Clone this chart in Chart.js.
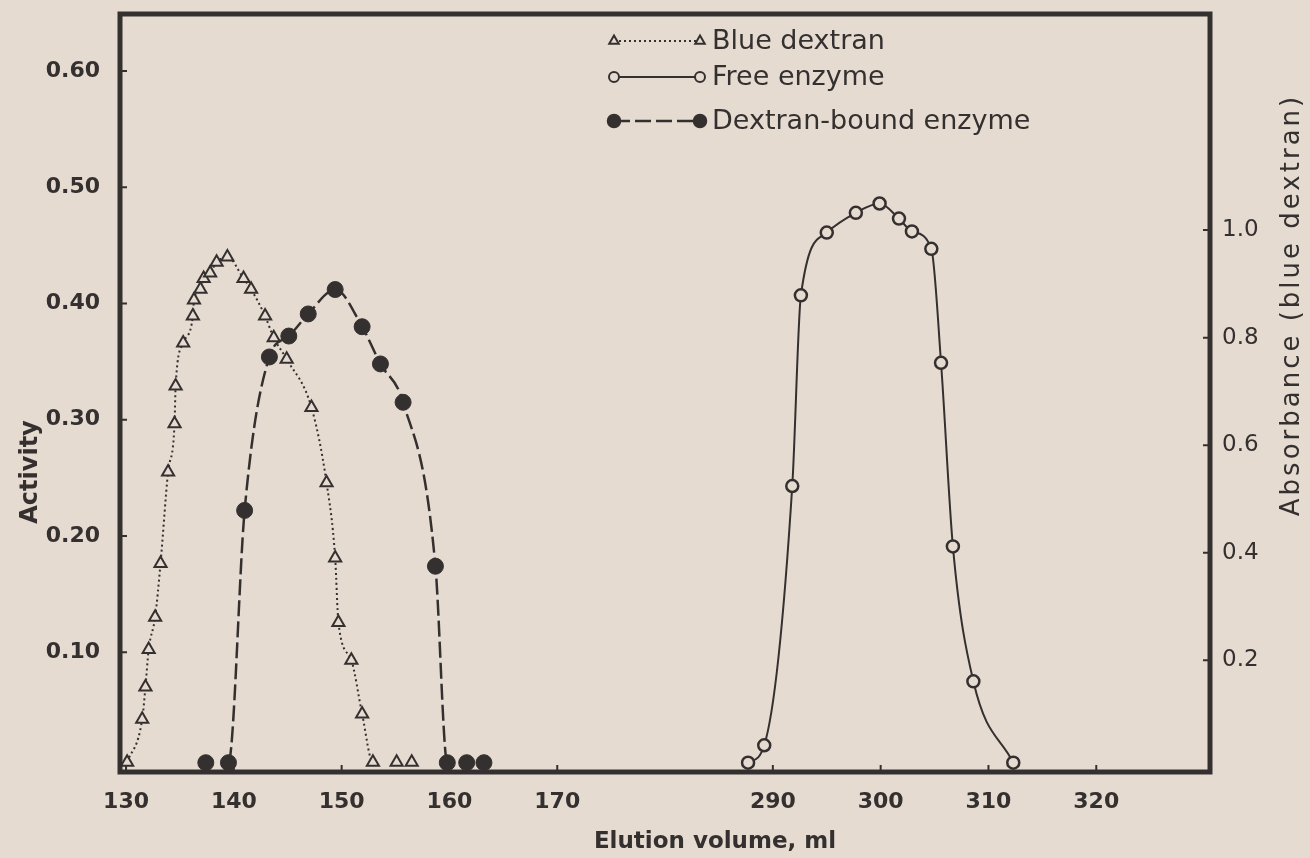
<!DOCTYPE html>
<html>
<head>
<meta charset="utf-8">
<script src="https://cdn.jsdelivr.net/npm/chart.js@4.4.1/dist/chart.umd.min.js"></script>
<style>
  html, body { margin: 0; padding: 0; background: #e5dbd1; }
  #wrap { width: 1310px; height: 858px; }
</style>
</head>
<body>
<div id="wrap"><canvas id="elutionChart" width="1310" height="858"></canvas></div>
<script>
// values (elution volume in ml)
const dextranVol = [130.1, 131.5, 131.8, 132.1, 132.7, 133.2, 133.9, 134.5, 134.6, 135.3, 136.2, 136.3, 136.9, 137.2, 137.8, 138.4, 139.4, 140.9, 141.6, 142.9, 143.7, 144.9, 147.2, 148.6, 149.4, 149.7, 150.9, 151.9, 152.9, 155.1, 156.5];
const dextranAbs = [0.01, 0.09, 0.15, 0.22, 0.28, 0.38, 0.55, 0.64, 0.71, 0.79, 0.84, 0.87, 0.89, 0.91, 0.92, 0.94, 0.95, 0.91, 0.89, 0.84, 0.80, 0.76, 0.67, 0.53, 0.39, 0.27, 0.20, 0.10, 0.01, 0.01, 0.01];

const freeVol = [287.7, 289.2, 291.8, 292.6, 295.0, 297.7, 299.9, 301.7, 302.9, 304.7, 305.6, 306.7, 308.6, 312.3];
const freeAct = [0.005, 0.02, 0.243, 0.407, 0.461, 0.478, 0.486, 0.473, 0.462, 0.447, 0.349, 0.191, 0.075, 0.005];

const boundVol = [137.4, 139.5, 141.0, 143.3, 145.1, 146.9, 149.4, 151.9, 153.6, 155.7, 158.7, 159.8, 161.6, 163.2];
const boundAct = [0.005, 0.005, 0.222, 0.354, 0.372, 0.391, 0.412, 0.380, 0.348, 0.315, 0.174, 0.005, 0.005, 0.005];

const xTicks = [130, 140, 150, 160, 170, 290, 300, 310, 320];
const activityTicks = [0.1, 0.2, 0.3, 0.4, 0.5, 0.6];
const absorbTicks = [0.2, 0.4, 0.6, 0.8, 1.0];

// the volume axis is broken between 170 and 290 ml
const breakAt = 200, breakGap = 100;
const toAxis = v => v > breakAt ? v - breakGap : v;
const fromAxis = v => v > 180 ? v + breakGap : v;

const ink = '#353030';
const paper = '#e5dbd1';
const face = 'DejaVu Sans, Verdana, sans-serif';
const tickFont = { family: face, size: 22, weight: 'bold' };
const rightTickFont = { family: face, size: 23 };

// no line along the baseline between points sitting at zero
const hideFlat = ctx => (ctx.p0.parsed.y < 0.02 && ctx.p1.parsed.y < 0.02) ? 'transparent' : ink;

const pts = (xs, ys) => xs.map((v, i) => ({ x: toAxis(v), y: ys[i] }));

// keep Chart.js from reserving extra room for half tick labels
const noPad = s => { s.paddingTop = 0; s.paddingBottom = 0; s.paddingLeft = 0; s.paddingRight = 0; };

const insideTicks = {
  id: 'insideTicks',
  beforeDatasetsDraw(chart) {
    const { ctx, chartArea: a, scales } = chart;
    ctx.save();
    ctx.strokeStyle = ink;
    ctx.lineWidth = 2;
    ctx.beginPath();
    scales.x.ticks.forEach(t => {
      const px = scales.x.getPixelForValue(t.value);
      ctx.moveTo(px, a.bottom); ctx.lineTo(px, a.bottom - 7);
    });
    scales.yL.ticks.forEach(t => {
      const py = scales.yL.getPixelForValue(t.value);
      ctx.moveTo(a.left, py); ctx.lineTo(a.left + 7, py);
    });
    scales.yR.ticks.forEach(t => {
      const py = scales.yR.getPixelForValue(t.value);
      ctx.moveTo(a.right, py); ctx.lineTo(a.right - 7, py);
    });
    ctx.stroke();
    ctx.lineWidth = 5;
    ctx.strokeRect(a.left, a.top, a.right - a.left, a.bottom - a.top);
    ctx.restore();
  }
};

const labelsAndKey = {
  id: 'labelsAndKey',
  afterDraw(chart) {
    const ctx = chart.ctx;
    ctx.save();
    ctx.fillStyle = ink;
    ctx.font = 'bold 23px ' + face;
    ctx.textAlign = 'center';
    ctx.textBaseline = 'middle';
    ctx.fillText('Elution volume, ml', 715, 842);

    ctx.save();
    ctx.translate(31, 472);
    ctx.rotate(-Math.PI / 2);
    ctx.font = 'bold 24px ' + face;
    ctx.fillText('Activity', 0, 0);
    ctx.restore();

    ctx.save();
    ctx.translate(1292, 305);
    ctx.rotate(-Math.PI / 2);
    ctx.font = '26px ' + face;
    ctx.letterSpacing = '3px';
    ctx.fillText('Absorbance (blue dextran)', 0, 0);
    ctx.restore();

    // key: marker - line - marker, then the name
    const rows = [41, 77, 121];
    const keySize = [5.5, 5, 6];
    chart.data.datasets.forEach((ds, i) => {
      const y = rows[i];
      ctx.save();
      ctx.strokeStyle = ink;
      ctx.lineWidth = ds.borderWidth;
      ctx.setLineDash(ds.borderDash || []);
      ctx.beginPath();
      ctx.moveTo(614, y); ctx.lineTo(700, y);
      ctx.stroke();
      ctx.setLineDash([]);
      ctx.fillStyle = ds.pointBackgroundColor;
      ctx.strokeStyle = ink;
      [614, 700].forEach(px => Chart.helpers.drawPoint(ctx, {
        pointStyle: ds.pointStyle, radius: keySize[i],
        borderWidth: ds.pointBorderWidth, rotation: 0
      }, px, y));
      ctx.restore();
      ctx.font = '27px ' + face;
      ctx.textAlign = 'left';
      ctx.fillText(ds.label, 712, y + 1);
    });
    ctx.restore();
  }
};

new Chart(document.getElementById('elutionChart'), {
  type: 'line',
  data: {
    datasets: [
      {
        label: 'Blue dextran',
        data: pts(dextranVol, dextranAbs),
        yAxisID: 'yR',
        borderColor: ink,
        borderWidth: 2,
        borderDash: [2, 3],
        pointStyle: 'triangle',
        pointRadius: 7,
        pointBorderWidth: 2,
        pointBackgroundColor: paper,
        pointBorderColor: ink,
        cubicInterpolationMode: 'monotone',
        segment: { borderColor: hideFlat },
        clip: 10
      },
      {
        label: 'Free enzyme',
        data: pts(freeVol, freeAct),
        yAxisID: 'yL',
        borderColor: ink,
        borderWidth: 2,
        pointStyle: 'circle',
        pointRadius: 6,
        pointBorderWidth: 2.5,
        pointBackgroundColor: paper,
        pointBorderColor: ink,
        cubicInterpolationMode: 'monotone',
        segment: { borderColor: hideFlat },
        clip: 10
      },
      {
        label: 'Dextran-bound enzyme',
        data: pts(boundVol, boundAct),
        yAxisID: 'yL',
        borderColor: ink,
        borderWidth: 2.5,
        borderDash: [16, 5],
        pointStyle: 'circle',
        pointRadius: 8,
        pointBorderWidth: 1,
        pointBackgroundColor: ink,
        pointBorderColor: ink,
        cubicInterpolationMode: 'monotone',
        segment: { borderColor: hideFlat },
        clip: 10
      }
    ]
  },
  options: {
    responsive: false,
    animation: false,
    layout: { padding: { top: 14 } },
    plugins: { legend: { display: false }, tooltip: { enabled: false } },
    scales: {
      x: {
        type: 'linear',
        min: 129.44,
        max: 230.55,
        afterBuildTicks: s => { s.ticks = xTicks.map(v => ({ value: toAxis(v) })); },
        afterFit: s => { s.height = 86; noPad(s); },
        grid: { display: false, drawTicks: false },
        border: { display: false },
        ticks: { callback: v => String(fromAxis(v)), font: tickFont, color: ink, padding: 17, maxRotation: 0, autoSkip: false }
      },
      yL: {
        position: 'left',
        min: -0.003,
        max: 0.649,
        afterBuildTicks: s => { s.ticks = activityTicks.map(v => ({ value: v })); },
        afterFit: s => { s.width = 120; noPad(s); },
        grid: { display: false, drawTicks: false },
        border: { display: false },
        ticks: { callback: v => v.toFixed(2), font: tickFont, color: ink, padding: 20 }
      },
      yR: {
        position: 'right',
        min: -0.008,
        max: 1.402,
        afterBuildTicks: s => { s.ticks = absorbTicks.map(v => ({ value: v })); },
        afterFit: s => { s.width = 100; noPad(s); },
        grid: { display: false, drawTicks: false },
        border: { display: false },
        ticks: { callback: v => v.toFixed(1), font: rightTickFont, color: ink, padding: 12 }
      }
    }
  },
  plugins: [insideTicks, labelsAndKey]
});
</script>
</body>
</html>
